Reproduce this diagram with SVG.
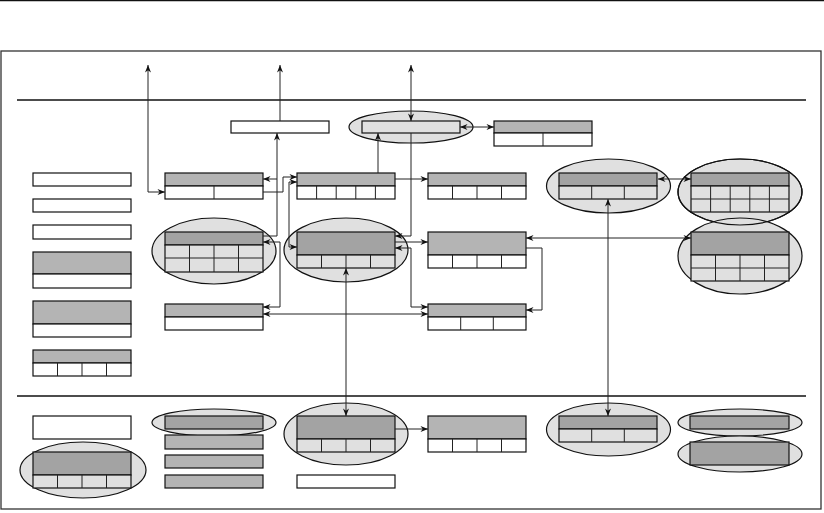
<svg xmlns="http://www.w3.org/2000/svg" width="824" height="513" viewBox="0 0 824 513">
<style>
.bx{stroke:#111;stroke-width:1.2}
.w{fill:#fff}
.h{fill:#b4b4b4}
.hd{fill:#a3a3a3}
.lg{fill:#e0e0e0}
.el{fill:#e0e0e0;stroke:#111;stroke-width:1.2}
.eo{fill:none;stroke:#111;stroke-width:1.2}
.cn{fill:none;stroke:#222;stroke-width:1}
.ln{stroke:#111;stroke-width:1.3}
</style>
<defs>
<marker id="ah" viewBox="0 0 10 8" refX="10" refY="4" markerWidth="8" markerHeight="6" markerUnits="userSpaceOnUse" orient="auto-start-reverse"><path d="M0,0 L10,4 L0,8 L3,4 z" fill="#111"/></marker>
</defs>
<rect width="824" height="513" fill="#fff"/>
<line x1="0" y1="0.5" x2="824" y2="0.5" class="ln"/>
<rect x="1" y="51" width="820" height="458" fill="none" stroke="#333" stroke-width="1.3"/>
<line x1="17" y1="100" x2="806" y2="100" class="ln"/>
<line x1="17" y1="396" x2="806" y2="396" class="ln"/>

<g id="legend">
<rect class="bx w" x="33" y="173" width="98" height="13"/>
<rect class="bx w" x="33" y="199" width="98" height="13"/>
<rect class="bx w" x="33" y="225" width="98" height="14"/>
<rect class="bx h" x="33" y="252" width="98" height="22"/>
<rect class="bx w" x="33" y="274" width="98" height="14"/>
<rect class="bx h" x="33" y="301" width="98" height="23"/>
<rect class="bx w" x="33" y="324" width="98" height="13"/>
<rect class="bx h" x="33" y="350" width="98" height="13"/>
<rect class="bx w" x="33" y="363" width="98" height="13"/>
<path class="cn" d="M57.5,363V376M82,363V376M106.5,363V376" stroke="#111"/>
<rect class="bx w" x="33" y="416" width="98" height="23"/>
</g>
<g id="legend-ellipse">
<ellipse class="el" cx="83" cy="470" rx="63" ry="28"/>
<rect class="bx hd" x="33" y="452" width="98" height="23"/>
<rect class="bx lg" x="33" y="475" width="98" height="13"/>
<path class="cn" d="M57.5,475V488M82,475V488M106.5,475V488"/>
</g>

<g id="n1"><rect class="bx w" x="231" y="121" width="98" height="12"/></g>
<g id="n2"><ellipse class="el" cx="411" cy="127" rx="62" ry="16"/><rect class="bx lg" x="362" y="121" width="98" height="12"/></g>
<g id="n3"><rect class="bx h" x="494" y="121" width="98" height="12"/><rect class="bx w" x="494" y="133" width="98" height="13"/><path class="cn" d="M543,133V146"/></g>

<g id="n4"><rect class="bx h" x="165" y="173" width="98" height="13"/><rect class="bx w" x="165" y="186" width="98" height="13"/><path class="cn" d="M214,186V199"/></g>
<g id="n5"><rect class="bx h" x="297" y="173" width="98" height="13"/><rect class="bx w" x="297" y="186" width="98" height="13"/><path class="cn" d="M316.6,186V199M336.2,186V199M355.8,186V199M375.4,186V199"/></g>
<g id="n6"><rect class="bx h" x="428" y="173" width="98" height="13"/><rect class="bx w" x="428" y="186" width="98" height="13"/><path class="cn" d="M452.5,186V199M477,186V199M501.5,186V199"/></g>
<g id="n7"><ellipse class="el" cx="608.5" cy="186" rx="62" ry="27"/><rect class="bx hd" x="559" y="173" width="98" height="13"/><rect class="bx lg" x="559" y="186" width="98" height="13"/><path class="cn" d="M591.7,186V199M624.3,186V199"/></g>
<g id="n8"><ellipse class="el" cx="740" cy="192" rx="62" ry="33"/><rect class="bx hd" x="691" y="173" width="98" height="13"/><rect class="bx lg" x="691" y="186" width="98" height="26"/><path class="cn" d="M691,199H789M710.6,186V212M730.2,186V212M749.8,186V212M769.4,186V212"/></g>

<g id="n9"><ellipse class="el" cx="740" cy="256" rx="62" ry="38"/><ellipse class="eo" cx="740" cy="192" rx="62" ry="33"/><rect class="bx hd" x="691" y="232" width="98" height="23"/><rect class="bx lg" x="691" y="255" width="98" height="26"/><path class="cn" d="M691,268H789M715.5,255V281M740,255V281M764.5,255V281"/></g>
<g id="nB"><ellipse class="el" cx="214" cy="251" rx="62" ry="33"/><rect class="bx hd" x="165" y="232" width="98" height="13"/><rect class="bx lg" x="165" y="245" width="98" height="27"/><path class="cn" d="M165,258H263M189.5,245V272M214,245V272M238.5,245V272"/></g>
<g id="n12"><ellipse class="el" cx="346" cy="250" rx="62" ry="32"/><rect class="bx hd" x="297" y="232" width="98" height="23"/><rect class="bx lg" x="297" y="255" width="98" height="13"/><path class="cn" d="M321.5,255V268M346,255V268M370.5,255V268"/></g>
<g id="n10"><rect class="bx h" x="428" y="232" width="98" height="23"/><rect class="bx w" x="428" y="255" width="98" height="13"/><path class="cn" d="M452.5,255V268M477,255V268M501.5,255V268"/></g>

<g id="n13"><rect class="bx h" x="165" y="304" width="98" height="13"/><rect class="bx w" x="165" y="317" width="98" height="13"/></g>
<g id="n11"><rect class="bx h" x="428" y="304" width="98" height="13"/><rect class="bx w" x="428" y="317" width="98" height="13"/><path class="cn" d="M460.7,317V330M493.3,317V330"/></g>

<g id="s1"><ellipse class="el" cx="214" cy="422.5" rx="62" ry="13.5"/><rect class="bx hd" x="165" y="416" width="98" height="13"/></g>
<g id="s2"><rect class="bx h" x="165" y="435" width="98" height="14"/></g>
<g id="s3"><rect class="bx h" x="165" y="455" width="98" height="13"/></g>
<g id="s4"><rect class="bx h" x="165" y="475" width="98" height="13"/></g>
<g id="n14"><ellipse class="el" cx="346" cy="434" rx="62" ry="31"/><rect class="bx hd" x="297" y="416" width="98" height="23"/><rect class="bx lg" x="297" y="439" width="98" height="13"/><path class="cn" d="M321.5,439V452M346,439V452M370.5,439V452"/></g>
<g id="n15"><rect class="bx w" x="297" y="475" width="98" height="13"/></g>
<g id="n16"><rect class="bx h" x="428" y="416" width="98" height="23"/><rect class="bx w" x="428" y="439" width="98" height="13"/><path class="cn" d="M452.5,439V452M477,439V452M501.5,439V452"/></g>
<g id="n17"><ellipse class="el" cx="608.5" cy="429.5" rx="62" ry="26.5"/><rect class="bx hd" x="559" y="416" width="98" height="13"/><rect class="bx lg" x="559" y="429" width="98" height="13"/><path class="cn" d="M591.7,429V442M624.3,429V442"/></g>
<g id="n18"><ellipse class="el" cx="740" cy="422.5" rx="62" ry="13.5"/><rect class="bx hd" x="690" y="416" width="99" height="13"/></g>
<g id="n19"><ellipse class="el" cx="740" cy="454" rx="62" ry="18"/><rect class="bx hd" x="690" y="442" width="99" height="23"/></g>

<g id="connectors">
<path class="cn" d="M165,192H148V65" marker-start="url(#ah)" marker-end="url(#ah)"/>
<path class="cn" d="M280,121V65" marker-end="url(#ah)"/>
<path class="cn" d="M411,121V65" marker-start="url(#ah)" marker-end="url(#ah)"/>
<path class="cn" d="M378,173V133" marker-end="url(#ah)"/>
<path class="cn" d="M460,127H494" marker-start="url(#ah)" marker-end="url(#ah)"/>
<path class="cn" d="M263,236H277V133" marker-end="url(#ah)"/>
<path class="cn" d="M277,179H263" marker-end="url(#ah)"/>
<path class="cn" d="M263,192H283V177H297" marker-end="url(#ah)"/>
<path class="cn" d="M297,182H289V247H297" marker-start="url(#ah)" marker-end="url(#ah)"/>
<path class="cn" d="M263,242H280V307H263" marker-start="url(#ah)" marker-end="url(#ah)"/>
<path class="cn" d="M263,314H428" marker-start="url(#ah)" marker-end="url(#ah)"/>
<path class="cn" d="M395,179H428" marker-end="url(#ah)"/>
<path class="cn" d="M411,133V236H395" marker-end="url(#ah)"/>
<path class="cn" d="M395,242H428" marker-end="url(#ah)"/>
<path class="cn" d="M395,248H411V307H428" marker-start="url(#ah)" marker-end="url(#ah)"/>
<path class="cn" d="M691,238H526" marker-start="url(#ah)" marker-end="url(#ah)"/>
<path class="cn" d="M526,248H542V310H526" marker-end="url(#ah)"/>
<path class="cn" d="M346,268V416" marker-start="url(#ah)" marker-end="url(#ah)"/>
<path class="cn" d="M608,199V416" marker-start="url(#ah)" marker-end="url(#ah)"/>
<path class="cn" d="M395,429H428" marker-end="url(#ah)"/>
<path class="cn" d="M658,179H691" marker-start="url(#ah)" marker-end="url(#ah)"/>
</g>
</svg>
